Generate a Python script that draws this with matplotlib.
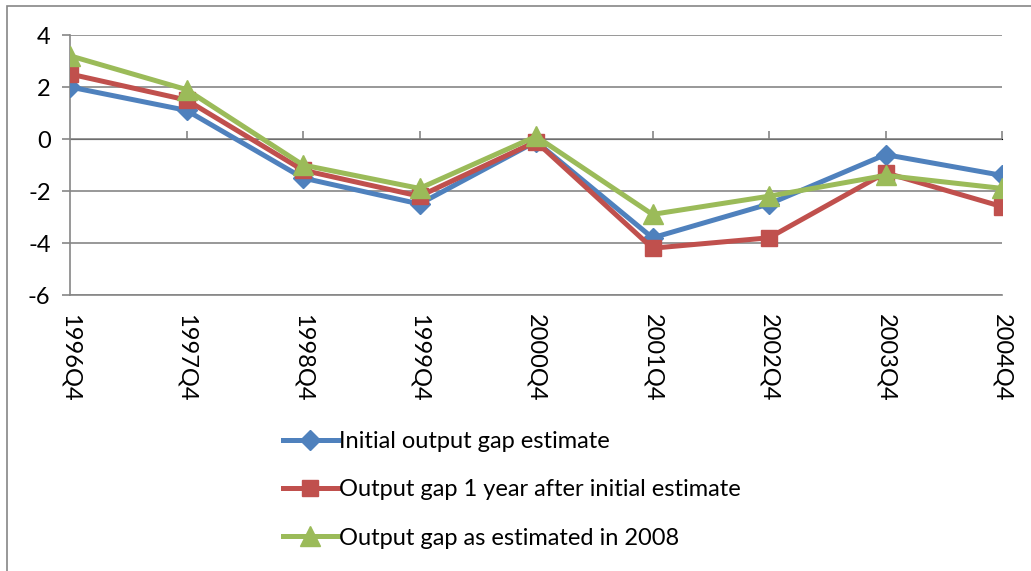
import matplotlib.pyplot as plt
from matplotlib.patches import Rectangle

# output gap estimates, per Q4
quarters = ['1996Q4', '1997Q4', '1998Q4', '1999Q4', '2000Q4',
            '2001Q4', '2002Q4', '2003Q4', '2004Q4']
initial = [2.0, 1.1, -1.5, -2.5, -0.1, -3.8, -2.5, -0.6, -1.4]
one_year_after = [2.5, 1.5, -1.2, -2.2, -0.1, -4.2, -3.8, -1.3, -2.6]
est_2008 = [3.2, 1.9, -1.0, -1.9, 0.1, -2.9, -2.2, -1.4, -1.9]

plt.rcParams['font.family'] = ['Lato', 'DejaVu Sans']
plt.rcParams['axes.unicode_minus'] = False
grey = '#868686'

fig = plt.figure(figsize=(10.31, 5.71), dpi=100)
ax = fig.add_axes([70/1031, 1-295/571, (1002-70)/1031, (295-35)/571])

x = list(range(len(quarters)))
ax.plot(x, initial, color='#4F81BD', lw=3.6, marker='D', ms=10,
        label='Initial output gap estimate', zorder=3)
ax.plot(x, one_year_after, color='#C0504D', lw=3.6, marker='s', ms=12,
        label='Output gap 1 year after initial estimate', zorder=4)
ax.plot(x, est_2008, color='#9BBB59', lw=3.6, marker='^', ms=14,
        label='Output gap as estimated in 2008', zorder=5)

ax.set_xlim(0, 8)
ax.set_ylim(-6, 4)
ax.set_yticks([-6, -4, -2, 0, 2, 4])
ax.yaxis.grid(True, color=grey, lw=1.2)
ax.set_axisbelow(True)

for s in ['top', 'right']:
    ax.spines[s].set_visible(False)
ax.spines['left'].set_color(grey)
ax.spines['left'].set_linewidth(1.2)
ax.spines['bottom'].set_color(grey)
ax.spines['bottom'].set_linewidth(1.2)
ax.tick_params(axis='y', length=6, color=grey, width=1.2, labelsize=17, pad=8)

ax.set_xticks(x)
ax.set_xticklabels(quarters, rotation=-90, fontsize=17)
ax.tick_params(axis='x', length=0, pad=14)

# category axis crosses at zero
sec = ax.secondary_xaxis(0.6)
sec.set_xticks(x[1:])
sec.set_xticklabels([])
sec.tick_params(length=6, color=grey, width=1.2)
sec.spines['bottom'].set_color(grey)
sec.spines['bottom'].set_linewidth(1.2)

fig.legend(loc='upper left', bbox_to_anchor=(262/1031, 1-410/571),
           frameon=False, fontsize=17, handlelength=2.3,
           handletextpad=0.05, labelspacing=1.15)

fig.patches.append(Rectangle((7/1031, -0.1), 1.2, 1.1-6/571,
                             transform=fig.transFigure, fill=False,
                             edgecolor=grey, lw=1.2))

fig.savefig('out.png', dpi=100)
